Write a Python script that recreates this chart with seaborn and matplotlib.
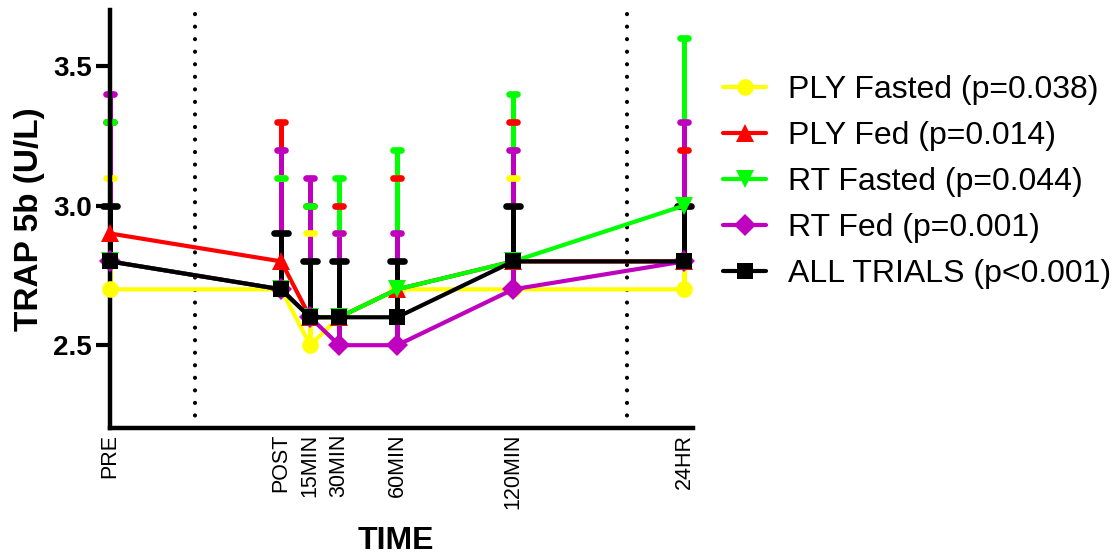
import numpy as np
import pandas as pd
import matplotlib
matplotlib.use("Agg")
import matplotlib.pyplot as plt
from matplotlib.markers import MarkerStyle
import seaborn as sns

# ---------------- data ----------------
time_labels = ["PRE", "POST", "15MIN", "30MIN", "60MIN", "120MIN", "24HR"]
time_pos = [-88.5, 0, 15, 30, 60, 120, 208.5]   # minutes after POST (PRE / 24HR on broken scale)
break_pos = [-44.5, 179]                          # dotted axis breaks

series_names = ["PLY Fasted (p=0.038)", "PLY Fed (p=0.014)", "RT Fasted (p=0.044)",
                "RT Fed (p=0.001)", "ALL TRIALS (p<0.001)"]

ply_fasted_mean = [2.7, 2.7, 2.5, 2.6, 2.7, 2.7, 2.7]
ply_fasted_top  = [3.1, 3.1, 2.9, 2.9, 3.1, 3.1, 3.0]
ply_fed_mean    = [2.9, 2.8, 2.6, 2.6, 2.7, 2.8, 2.8]
ply_fed_top     = [3.3, 3.3, 3.0, 3.0, 3.1, 3.3, 3.2]
rt_fasted_mean  = [2.8, 2.7, 2.6, 2.6, 2.7, 2.8, 3.0]
rt_fasted_top   = [3.3, 3.1, 3.0, 3.1, 3.2, 3.4, 3.6]
rt_fed_mean     = [2.8, 2.7, 2.6, 2.5, 2.5, 2.7, 2.8]
rt_fed_top      = [3.4, 3.2, 3.1, 2.9, 2.9, 3.2, 3.3]
all_mean        = [2.8, 2.7, 2.6, 2.6, 2.6, 2.8, 2.8]
all_top         = [3.0, 2.9, 2.8, 2.8, 2.8, 3.0, 3.0]

y_ticks = [2.5, 3.0, 3.5]

means = [ply_fasted_mean, ply_fed_mean, rt_fasted_mean, rt_fed_mean, all_mean]
tops = [ply_fasted_top, ply_fed_top, rt_fasted_top, rt_fed_top, all_top]
colors = ["#FFFF00", "#FF0000", "#00FF00", "#BF00BF", "#000000"]
markers = ["o", "^", "v", "D", "s"]
msizes = [12, 12.5, 12.5, 11.5, 12]
cap_ms = [6, 6, 6, 6, 10]

# ---------------- style ----------------
sns.set_style("white")
plt.rcParams["font.family"] = ["Liberation Sans", "DejaVu Sans"]
plt.rcParams["text.color"] = "black"
plt.rcParams["axes.labelcolor"] = "black"
plt.rcParams["xtick.color"] = "black"
plt.rcParams["ytick.color"] = "black"

fig = plt.figure(figsize=(11.14, 5.56), dpi=100)
ax = fig.add_axes([110 / 1114, 1 - 428 / 556, (693 - 110) / 1114, (428 - 10) / 556])

df = pd.concat([
    pd.DataFrame({"time": time_pos, "value": m, "top": t, "series": n})
    for m, t, n in zip(means, tops, series_names)
], ignore_index=True)

# error bars (upper only) + rounded caps
for i, (name, c) in enumerate(zip(series_names, colors)):
    d = df[df["series"] == name]
    ax.vlines(d["time"], d["value"], d["top"], colors=c, linewidth=3.6,
              zorder=1.5 + i * 0.01, clip_on=False)
for i, (name, c) in enumerate(zip(series_names, colors)):
    d = df[df["series"] == name]
    ax.plot(d["time"], d["top"], ls="none",
            marker=MarkerStyle("_", capstyle="round"),
            ms=cap_ms[i], mew=4.8, color=c, zorder=2.0 + i * 0.01, clip_on=False)

# mean lines
for i, (name, c) in enumerate(zip(series_names, colors)):
    d = df[df["series"] == name]
    sns.lineplot(data=d, x="time", y="value", ax=ax, color=c, marker=markers[i],
                 markersize=msizes[i], markeredgewidth=0, linewidth=3,
                 label=name, zorder=3 + i * 0.1, clip_on=False, sort=False)

for xb in break_pos:
    ax.axvline(xb, color="black", lw=3, ls=(0, (0.01, 3.0)),
               dash_capstyle="round", zorder=1)

ax.set_xlim(-88.5, 213)
ax.set_ylim(2.2036, 3.7)
ax.set_xticks(time_pos)
ax.set_xticklabels(time_labels, rotation=90, fontsize=15.5)
ax.set_yticks(y_ticks)
ax.set_yticklabels([f"{v:.1f}" for v in y_ticks], fontsize=20, fontweight="bold")
ax.tick_params(axis="x", length=0, pad=4)
ax.tick_params(axis="y", length=10, width=3, direction="out", pad=3, left=True)

for s in ["top", "right"]:
    ax.spines[s].set_visible(False)
for s in ["left", "bottom"]:
    ax.spines[s].set_linewidth(3.2)
    ax.spines[s].set_color("black")

ax.set_ylabel("TRAP 5b (U/L)", fontsize=24, fontweight="bold", labelpad=6)
ax.set_xlabel("TIME", fontsize=23, fontweight="bold", va="top")
ax.xaxis.set_label_coords(0.49, (428 - 526) / 418)
ax.grid(False)

handles, labels = ax.get_legend_handles_labels()
ax.legend(handles, labels, loc="upper left", bbox_to_anchor=(723 / 1114, 1 - 75 / 556),
          bbox_transform=fig.transFigure, frameon=False, fontsize=23,
          handlelength=1.35, handletextpad=0.68, labelspacing=0.5, borderpad=0,
          borderaxespad=0)

fig.savefig("out.png", dpi=100)
